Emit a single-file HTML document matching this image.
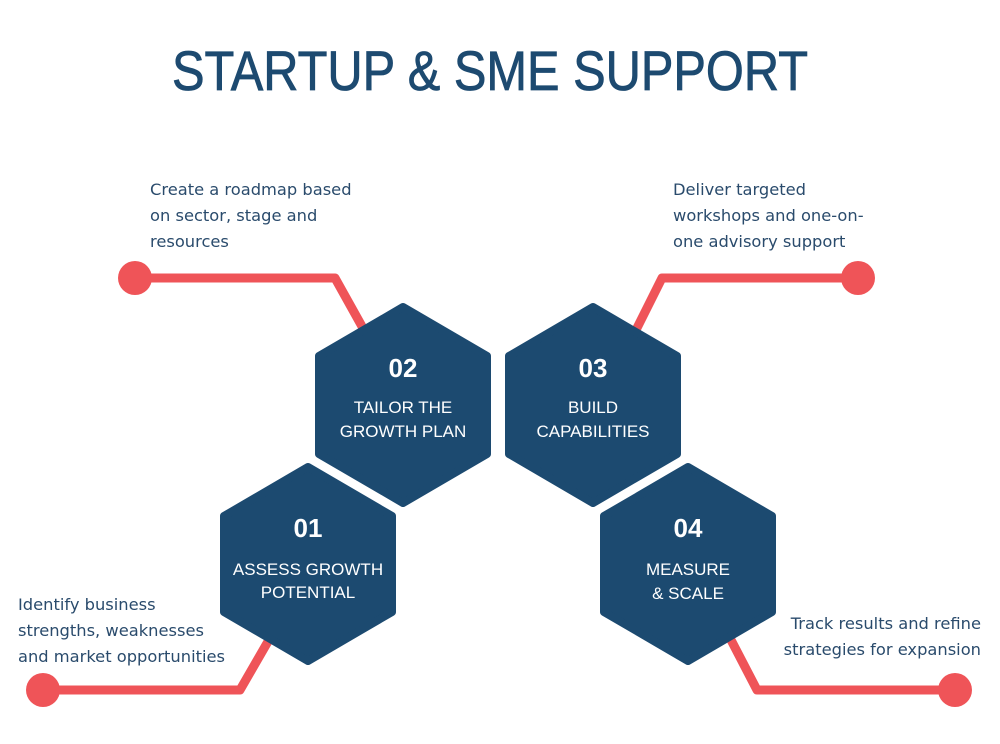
<!DOCTYPE html>
<html><head><meta charset="utf-8"><style>
body{margin:0;background:#fff;}
svg{display:block}
</style></head><body>
<svg width="1000" height="744" viewBox="0 0 1000 744" xmlns="http://www.w3.org/2000/svg">
<rect width="1000" height="744" fill="#fff"/>
<text x="172" y="90" textLength="636" lengthAdjust="spacingAndGlyphs" font-family="Liberation Sans, sans-serif" font-size="56" fill="#1d4a70" stroke="#1d4a70" stroke-width="0.8">STARTUP &amp; SME SUPPORT</text>
<g stroke="#ef5458" stroke-width="9" fill="none" stroke-linejoin="round">
<polyline points="135,278 335,278 364,330"/>
<polyline points="636,330 662,278 858,278"/>
<polyline points="43,690 240,690 270,638"/>
<polyline points="730,638 757,690 955,690"/>
</g>
<g fill="#ef5458">
<circle cx="135" cy="278" r="17"/><circle cx="858" cy="278" r="17"/>
<circle cx="43" cy="690" r="17"/><circle cx="955" cy="690" r="17"/>
</g>
<g fill="#1c4a70" stroke="#1c4a70" stroke-width="8" stroke-linejoin="round">
<polygon points="403,307 487,356 487,454 403,503 319,454 319,356"/>
<polygon points="593,307 677,356 677,454 593,503 509,454 509,356"/>
<polygon points="308,467 392,516 392,612 308,661 224,612 224,516"/>
<polygon points="688,467 772,516 772,612 688,661 604,612 604,516"/>
</g>
<g fill="#fff" font-family="Liberation Sans, sans-serif" text-anchor="middle">
<g font-size="26" font-weight="bold">
<text x="403" y="377">02</text><text x="593" y="377">03</text>
<text x="308" y="537">01</text><text x="688" y="537">04</text>
</g>
<g font-size="17">
<text x="403" y="413">TAILOR THE</text><text x="403" y="437">GROWTH PLAN</text>
<text x="593" y="413">BUILD</text><text x="593" y="437">CAPABILITIES</text>
<text x="308" y="575">ASSESS GROWTH</text><text x="308" y="598">POTENTIAL</text>
<text x="688" y="575">MEASURE</text><text x="688" y="599">&amp; SCALE</text>
</g>
</g>
<g fill="#2a4b6c" font-family="DejaVu Sans, Liberation Sans, sans-serif" font-size="16.3">
<text x="150" y="195">Create a roadmap based</text>
<text x="150" y="221">on sector, stage and</text>
<text x="150" y="247">resources</text>
<text x="673" y="195">Deliver targeted</text>
<text x="673" y="221">workshops and one-on-</text>
<text x="673" y="247">one advisory support</text>
<text x="18" y="610">Identify business</text>
<text x="18" y="636">strengths, weaknesses</text>
<text x="18" y="662">and market opportunities</text>
<text x="981" y="629" text-anchor="end">Track results and refine</text>
<text x="981" y="655" text-anchor="end">strategies for expansion</text>
</g>
</svg>
</body></html>
